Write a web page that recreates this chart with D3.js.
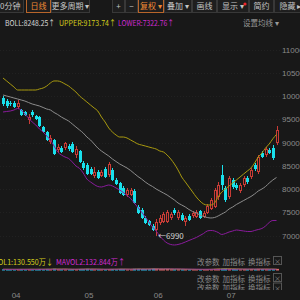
<!DOCTYPE html>
<html>
<head>
<meta charset="utf-8">
<script src="https://cdn.jsdelivr.net/npm/d3@7"></script>
<style>
  body { margin: 0; padding: 0; background: #181818; overflow: hidden; }
  svg { display: block; font-family: "Noto Sans CJK SC", "Noto Sans", sans-serif; }
</style>
</head>
<body>
<div id="main"></div>
<script>
// daily OHLC (one entry per candle)
const opens  = [9957,9892,9850,9850,9763,9699,9656,9484,9656,9570,9548,9333,9226,9011,9054,8839,8882,8882,8925,8968,
                8731,8817,8559,8516,8430,8280,8366,8280,8430,8301,8409,8194,8129,8022,7871,7871,7957,7613,7549,7377,
                7312,7205,7119,7269,7291,7291,7377,7549,7377,7441,7291,7420,7420,7398,7527,7398,7484,7570,7613,7828,
                8301,8022,7828,8194,8086,7957,8086,8237,8258,8516,8366,8774,8731,8839,8882,8989];
const highs  = [10000,9936,9892,9892,9914,9720,9677,9613,9699,9591,9570,9355,9247,9161,9075,8968,8925,9011,8968,9011,
                8925,8839,8602,8559,8473,8473,8409,8409,8473,8581,8452,8237,8151,8065,8022,8022,8000,7656,7592,7420,
                7334,7248,7355,7441,7506,7549,7506,7592,7549,7484,7420,7463,7527,7549,7549,7527,7678,7807,8022,8151,
                8516,8065,8280,8237,8129,8129,8280,8280,8452,8559,8731,8817,8903,8882,8946,9355];
const lows   = [9785,9742,9785,9742,9720,9570,9570,9398,9548,9484,9333,9204,9032,8968,8731,8774,8774,8839,8817,8774,
                8667,8559,8409,8301,8301,8237,8215,8258,8237,8258,8172,8086,7893,7850,7828,7850,7678,7463,7355,7248,
                7205,7097,6990,7226,7269,7269,7334,7441,7334,7312,7205,7312,7377,7377,7355,7377,7463,7549,7592,7764,
                7979,7721,7785,8000,7979,7914,8043,8108,8215,8387,8323,8667,8688,8753,8623,8946];
const closes = [9828,9785,9820,9763,9850,9591,9591,9548,9591,9505,9355,9226,9054,9097,8753,8903,8796,8989,8860,8796,
                8860,8581,8452,8323,8323,8366,8237,8366,8258,8538,8194,8108,7914,7871,7979,7979,7699,7484,7377,7269,
                7226,7119,7291,7377,7463,7506,7463,7484,7506,7334,7377,7334,7484,7506,7377,7484,7635,7764,7979,8086,
                8086,7764,8237,8043,8022,8086,8237,8151,8409,8430,8688,8688,8860,8774,8667,9269];

// Bollinger bands as drawn
const bollUpper = [10387,10323,10258,10194,10129,10129,10129,10129,10129,10129,10151,10172,10215,10280,10323,10323,10301,10258,10215,10151,
                   10086,10000,9936,9871,9806,9742,9677,9548,9441,9312,9226,9161,9118,9118,9097,9054,9011,8968,8946,8925,
                   8903,8882,8860,8817,8796,8731,8645,8538,8409,8258,8151,8043,7936,7828,7742,7678,7656,7656,7699,7828,
                   7936,8000,8065,8129,8194,8258,8323,8387,8452,8559,8688,8774,8882,8968,9080,9174];
const bollMid   = [10022,10000,9979,9957,9936,9914,9892,9860,9828,9807,9785,9753,9720,9699,9645,9602,9548,9505,9462,9398,
                   9333,9269,9204,9118,9054,8968,8882,8817,8763,8710,8645,8591,8538,8495,8452,8398,8333,8269,8215,8151,
                   8097,8054,8000,7957,7914,7871,7817,7764,7699,7656,7613,7559,7516,7484,7441,7409,7387,7377,7387,7420,
                   7463,7506,7570,7613,7667,7710,7753,7796,7839,7893,7957,8000,8054,8129,8194,8248];
const bollLower = [9656,9667,9677,9699,9731,9699,9613,9527,9441,9376,9290,9226,9140,9054,8925,8796,8731,8688,8656,8581,
                   8495,8441,8344,8215,8151,8097,8054,8043,8065,8086,8065,8022,7979,7925,7860,7796,7699,7602,7506,7398,
                   7291,7183,7097,6990,6903,6839,6807,6796,6807,6828,6860,6893,6925,6957,7000,7043,7097,7108,7097,7065,
                   7022,7043,7075,7097,7118,7108,7097,7086,7086,7108,7129,7151,7204,7280,7323,7323];

// volume (万手) and its two averages
const volumes = [118,125,102,110,131,142,120,135,112,104,150,138,162,128,176,140,122,118,109,131,
                 126,158,149,170,133,121,115,108,124,139,147,128,160,142,119,116,172,168,155,149,
                 139,186,175,152,147,160,131,118,126,112,121,109,104,98,115,109,132,141,168,177,
                 183,190,165,149,131,126,144,122,151,137,168,152,140,131,147,172];
const mavol1 = [121,122,119,117,118,122,121,126,128,125,129,128,133,138,151,149,146,150,137,124,
                121,129,139,147,147,146,139,129,120,121,127,129,140,145,139,133,142,155,156,152,
                155,167,169,165,161,164,159,145,147,139,130,123,118,111,109,107,112,119,133,147,
                161,172,177,173,164,153,143,135,137,136,140,144,150,146,148,130.55];
const mavol2 = [124,124,123,122,121,122,122,123,124,124,126,127,129,130,134,136,138,139,138,138,
                137,137,139,141,141,138,134,133,131,132,135,137,138,140,140,141,141,143,145,146,
                148,152,155,157,158,160,159,158,156,152,147,143,139,136,133,130,128,126,127,128,
                130,132,136,139,141,143,146,149,150,148,146,143,140,138,136,132.84];

const priceTicks = [7000,7500,8000,8500,9000,9500,10000,10500,11000];
const monthLabels = ['04','05','06','07'];
const monthIndex  = [4,24,43,63];

const headerBoll  = ['BOLL:8248.25↑','UPPER:9173.74↑','LOWER:7322.76↑'];
const headerVol   = ['MAVOL1:130.550万↓','MAVOL2:132.844万↑'];
const toolbarText = ['30分钟','日线','更多周期 ▾','+','−','复权 ▾','叠加 ▾','画线','显示 ▾','简约','隐藏 ▸'];
const paneButtons = ['改参数','加指标','换指标'];

const W = 300, H = 300;
const BG = '#181818';
const UP = '#c83c36', DOWN = '#19e0ec';
const N = closes.length;

const svg = d3.select('#main').append('svg').attr('width', W).attr('height', H);
svg.append('rect').attr('width', W).attr('height', H).attr('fill', BG);

const xs = d3.scaleLinear().domain([0, N - 1]).range([3, 276.5]);
const ys = d3.scaleLinear().domain([7000, 11000]).range([235.5, 49.5]);
const cx = (i) => Math.round(xs(i));

// ---- toolbar
const bar = svg.append('g');
const btnX = [-8, 26, 51, 112, 125, 138, 164, 192, 217, 249, 274];
const btnW = [31, 24, 38, 12, 12, 25, 27, 24, 31, 24, 32];
toolbarText.forEach((t, i) => {
    const hot = (i === 1 || i === 5);
    bar.append('rect')
        .attr('x', btnX[i] + 0.5).attr('y', -2.5)
        .attr('width', btnW[i]).attr('height', 15)
        .attr('fill', '#1e1e1e')
        .attr('stroke', hot ? '#b8652a' : '#383838');
    bar.append('text')
        .attr('x', btnX[i] + btnW[i] / 2 + 0.5).attr('y', 5.5)
        .attr('text-anchor', 'middle').attr('dominant-baseline', 'central')
        .attr('font-size', 8)
        .attr('fill', hot ? '#ef8a34' : '#c4c4c4')
        .text(t);
});
bar.append('circle').attr('cx', 245).attr('cy', 4).attr('r', 1.6).attr('fill', '#f0262a');

// ---- boll header
const headColors = ['#d6d6d6', '#d2cc1c', '#cf2ad2'];
const headX = [5, 59, 118];
const headLen = [50, 57, 56];
headerBoll.forEach((t, i) => {
    svg.append('text').attr('x', headX[i]).attr('y', 22).attr('dominant-baseline', 'central')
        .attr('font-size', 7.8).attr('fill', headColors[i])
        .attr('textLength', headLen[i]).attr('lengthAdjust', 'spacingAndGlyphs').text(t);
});
svg.append('text').attr('x', 243).attr('y', 22).attr('dominant-baseline', 'central')
    .attr('font-size', 7.5).attr('fill', '#9a9a9a').text('设置均线 ▾');

// ---- price pane
const clip = svg.append('clipPath').attr('id', 'pc');
clip.append('rect').attr('x', 0).attr('y', 28).attr('width', 280).attr('height', 224);
const pane = svg.append('g').attr('clip-path', 'url(#pc)');

pane.selectAll('line.grid').data(priceTicks).enter().append('line')
    .attr('x1', 0).attr('x2', 280)
    .attr('y1', (d) => Math.round(ys(d)) + 0.5).attr('y2', (d) => Math.round(ys(d)) + 0.5)
    .attr('stroke', '#212121').attr('stroke-dasharray', '1,2');

const candles = pane.selectAll('g.candle').data(d3.range(N)).enter().append('g').attr('class', 'candle');
candles.each(function (i) {
    const g = d3.select(this);
    const x = cx(i);
    const up = closes[i] >= opens[i];
    const top = Math.round(ys(Math.max(opens[i], closes[i])));
    const bot = Math.round(ys(Math.min(opens[i], closes[i])));
    const hi = Math.round(ys(highs[i])), lo = Math.round(ys(lows[i]));
    const col = up ? UP : DOWN;
    g.append('line').attr('x1', x + 0.5).attr('x2', x + 0.5).attr('y1', hi).attr('y2', top).attr('stroke', col);
    g.append('line').attr('x1', x + 0.5).attr('x2', x + 0.5).attr('y1', bot).attr('y2', lo).attr('stroke', col);
    if (up) {
        g.append('rect').attr('x', x - 0.5).attr('y', top + 0.5)
            .attr('width', 2).attr('height', Math.max(1, bot - top - 1))
            .attr('fill', BG).attr('stroke', col);
    } else {
        g.append('rect').attr('x', x - 1).attr('y', top)
            .attr('width', 3).attr('height', Math.max(1, bot - top))
            .attr('fill', col);
    }
});

const band = d3.line().x((d, i) => xs(i)).y((d) => ys(d)).curve(d3.curveMonotoneX);
[[bollUpper, '#a8990f'], [bollMid, '#8c8c8c'], [bollLower, '#8a1b9c']].forEach(([s, c]) => {
    pane.append('path').datum(s).attr('d', band).attr('fill', 'none').attr('stroke', c).attr('stroke-width', 1);
});

// lowest low marker
const iMin = d3.minIndex(lows);
pane.append('text').attr('x', cx(iMin) + 2).attr('y', ys(lows[iMin])).attr('dominant-baseline', 'central')
    .attr('font-size', 8).attr('fill', '#d4d4d4').text('←' + lows[iMin]);

// price axis
const yAxis = svg.append('g').attr('transform', 'translate(281,0)')
    .call(d3.axisRight(ys).tickValues(priceTicks).tickSize(0).tickPadding(1).tickFormat(d3.format('d')));
yAxis.select('.domain').remove();
yAxis.selectAll('text').attr('fill', '#8a8a8a').attr('font-size', 8).attr('font-family', 'Liberation Sans, sans-serif');

// ---- volume pane
svg.append('text').attr('x', -16).attr('y', 261).attr('dominant-baseline', 'central')
    .attr('font-size', 8).attr('fill', '#d2cc1c')
    .attr('textLength', 69).attr('lengthAdjust', 'spacingAndGlyphs').text(headerVol[0]);
svg.append('text').attr('x', 56).attr('y', 261).attr('dominant-baseline', 'central')
    .attr('font-size', 8).attr('fill', '#cf2ad2')
    .attr('textLength', 69).attr('lengthAdjust', 'spacingAndGlyphs').text(headerVol[1]);

const vy = d3.scaleLinear().domain([0, 260]).range([270.5, 268]);
svg.append('g').selectAll('rect').data(d3.range(N)).enter().append('rect')
    .attr('x', (i) => cx(i) - 1).attr('width', 3)
    .attr('y', (i) => vy(volumes[i])).attr('height', (i) => vy(0) - vy(volumes[i]))
    .attr('fill', (i) => closes[i] >= opens[i] ? '#e0686a' : '#2fb8e8');
const vline = d3.line().x((d, i) => xs(i)).y((d) => vy(d));
svg.append('path').datum(mavol1).attr('d', vline).attr('fill', 'none').attr('stroke', '#d2cc1c').attr('stroke-width', 0.8);
svg.append('path').datum(mavol2).attr('d', vline).attr('fill', 'none').attr('stroke', '#8a2a9c').attr('stroke-width', 1);

// ---- sub pane button rows
[261, 278, 287.5].forEach((y) => {
    const row = svg.append('g');
    paneButtons.forEach((t, i) => {
        row.append('text').attr('x', 197 + i * 25.5).attr('y', y).attr('dominant-baseline', 'central')
            .attr('font-size', 7.5).attr('fill', '#8a8a8a').text(t);
    });
    row.append('rect').attr('x', 273.5).attr('y', y - 4.5).attr('width', 8).attr('height', 8)
        .attr('fill', 'none').attr('stroke', '#555');
    row.append('text').attr('x', 277.5).attr('y', y).attr('text-anchor', 'middle').attr('dominant-baseline', 'central')
        .attr('font-size', 7).attr('fill', '#8a8a8a').text('×');
});

// ---- month axis
svg.append('rect').attr('x', 0).attr('y', 290).attr('width', W).attr('height', 10).attr('fill', BG);
const xAxis = svg.append('g').attr('transform', 'translate(-2,291)')
    .call(d3.axisBottom(xs).tickValues(monthIndex).tickSize(0).tickPadding(1)
        .tickFormat((d, i) => monthLabels[i]));
xAxis.select('.domain').remove();
xAxis.selectAll('text').attr('fill', '#8a8a8a').attr('font-size', 8).attr('font-family', 'Liberation Sans, sans-serif');
</script>
</body>
</html>
